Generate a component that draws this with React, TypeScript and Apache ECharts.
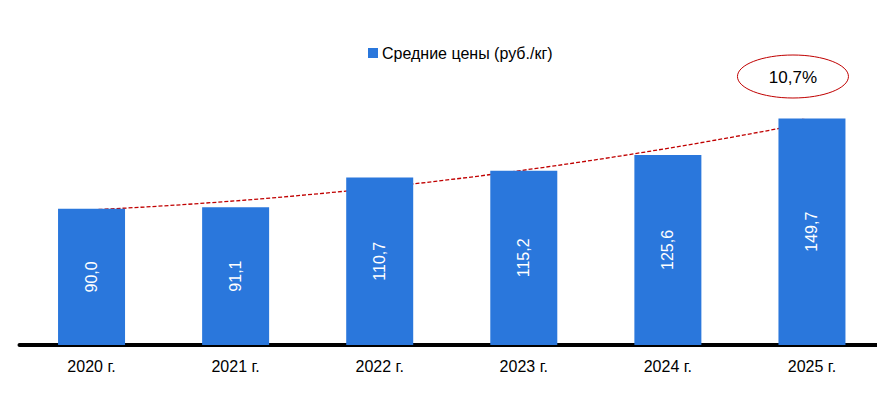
import React, { useEffect, useRef } from "react";
import * as echarts from "echarts";

const categories = ["2020 г.", "2021 г.", "2022 г.", "2023 г.", "2024 г.", "2025 г."];
const prices = [90.0, 91.1, 110.7, 115.2, 125.6, 149.7];
const seriesName = "Средние цены (руб./кг)";
const growthLabel = "10,7%";

const FONT = "'Liberation Sans', Arial, sans-serif";
const BLUE = "#2A77DC";
const RED = "#C00000";

export default function App() {
  const ref = useRef<HTMLDivElement>(null);
  useEffect(() => {
    if (!ref.current) return;
    const chart = echarts.init(ref.current, null, { renderer: "svg" });
    chart.setOption({
      animation: false,
      legend: {
        left: 363,
        top: 40,
        itemWidth: 10,
        itemHeight: 10,
        itemGap: 10,
        textStyle: { fontFamily: FONT, fontSize: 16, color: "#000", padding: [0, 0, 0, -1] },
        data: [{ name: seriesName, icon: "rect" }],
      },
      grid: {
        left: 19.5,
        top: 0,
        width: 864.5,
        bottom: 68,
        containLabel: false,
        outerBoundsMode: "none",
      },
      xAxis: {
        type: "category",
        data: categories,
        axisLine: { show: true, lineStyle: { color: "#000", width: 4 } },
        axisTick: { show: false },
        axisLabel: { fontFamily: FONT, fontSize: 16, color: "#000", margin: 13 },
      },
      yAxis: {
        type: "value",
        min: 0,
        max: 228,
        show: false,
        splitLine: { show: false },
      },
      series: [
        {
          name: seriesName,
          type: "bar",
          data: prices,
          barWidth: 67,
          itemStyle: { color: BLUE },
          label: {
            show: true,
            position: "inside",
            rotate: 90,
            color: "#fff",
            fontFamily: FONT,
            fontSize: 16,
            formatter: (p: any) => Number(p.value).toFixed(1).replace(".", ","),
          },
        },
      ],
    });

    const first = chart.convertToPixel({ xAxisIndex: 0, yAxisIndex: 0 }, [0, prices[0]]) as number[];
    const last = chart.convertToPixel(
      { xAxisIndex: 0, yAxisIndex: 0 },
      [prices.length - 1, prices[prices.length - 1]]
    ) as number[];
    const p0 = [first[0] + 1, first[1] + 1];
    const p2 = [last[0] + 3, last[1] + 3];
    const c = [(p0[0] + p2[0]) / 2, p0[1] - 17.5];
    const dx = p2[0] - c[0];
    const dy = p2[1] - c[1];
    const len = Math.sqrt(dx * dx + dy * dy);
    const ux = dx / len;
    const uy = dy / len;
    const L = 12;
    const W = 5;
    const base = [p2[0] - ux * L, p2[1] - uy * L];
    const endLine = [p2[0] - ux * (L - 2), p2[1] - uy * (L - 2)];

    chart.setOption({
      graphic: [
        {
          type: "bezierCurve",
          shape: { x1: p0[0], y1: p0[1], x2: endLine[0], y2: endLine[1], cpx1: c[0], cpy1: c[1] },
          style: { stroke: RED, lineWidth: 1.3, lineDash: [4, 2], fill: null },
          silent: true,
        },
        {
          type: "polygon",
          shape: {
            points: [
              [p2[0], p2[1]],
              [base[0] - uy * W, base[1] + ux * W],
              [base[0] + uy * W, base[1] - ux * W],
            ],
          },
          style: { fill: RED, stroke: RED, lineWidth: 0.5 },
          silent: true,
        },
        {
          type: "ellipse",
          shape: { cx: last[0] - 19, cy: 76.5, rx: 55.5, ry: 21.5 },
          style: { fill: "#fff", stroke: RED, lineWidth: 1 },
          silent: true,
        },
        {
          type: "text",
          x: last[0] - 19,
          y: 77,
          style: {
            text: growthLabel,
            fontFamily: FONT,
            fontSize: 17,
            fill: "#000",
            align: "center",
            verticalAlign: "middle",
          },
          silent: true,
        },
      ],
    });

    return () => chart.dispose();
  }, []);
  return (
    <div
      ref={ref}
      style={{ position: "fixed", left: 0, top: 0, width: 877, height: 413, background: "#fff" }}
    />
  );
}
